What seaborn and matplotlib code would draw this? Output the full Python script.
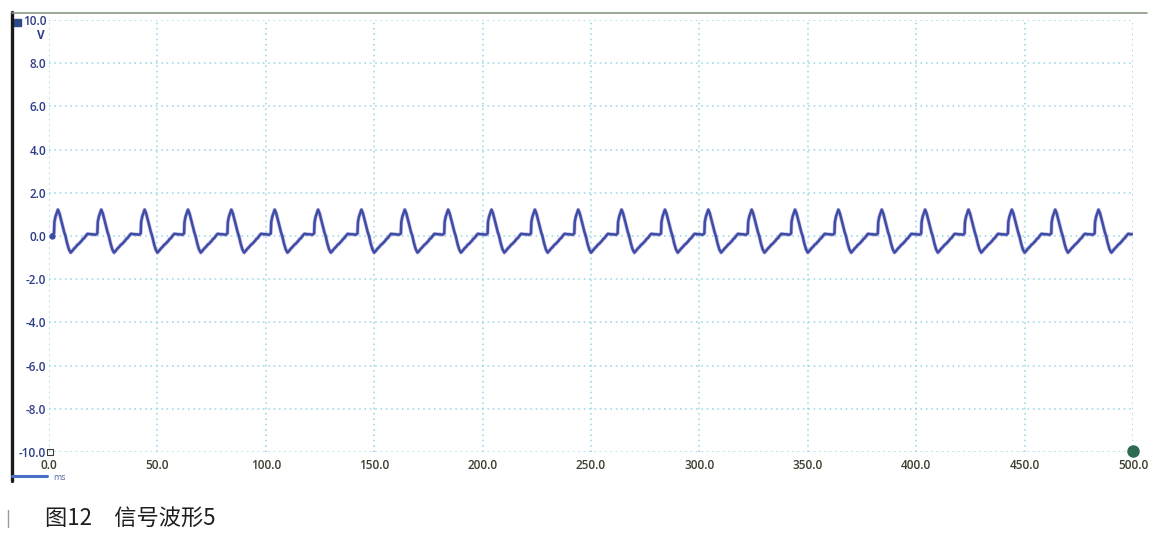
import numpy as np
import pandas as pd
import matplotlib
matplotlib.use("Agg")
import matplotlib.pyplot as plt
from matplotlib.lines import Line2D
from matplotlib.patches import Rectangle
import seaborn as sns

# One cycle of the trace (phase in ms, level in V)
cycle_phase = [0.0, 1.5, 2.3, 2.5, 3.0, 3.6, 4.1, 4.4, 4.8, 5.4, 6.2, 7.0, 7.6,
               8.4, 9.2, 10.0, 10.8, 11.6, 12.4, 13.2, 13.8, 14.5, 15.1, 15.6,
               16.2, 16.8, 17.3, 17.8, 18.6, 19.4, 20.0]
cycle_volts = [0.08, 0.06, 0.12, 0.65, 0.90, 1.08, 1.22, 1.15, 1.05, 0.82, 0.50,
               0.18, 0.00, -0.35, -0.62, -0.77, -0.68, -0.58, -0.50, -0.40, -0.36,
               -0.28, -0.22, -0.14, -0.10, -0.02, 0.05, 0.10, 0.09, 0.08, 0.08]
n_cycles = 25
period_ms = 20.0

x_ticks = [0, 50, 100, 150, 200, 250, 300, 350, 400, 450, 500]
x_labels = ["0.0", "50.0", "100.0", "150.0", "200.0", "250.0", "300.0",
            "350.0", "400.0", "450.0", "500.0"]
y_ticks = [-10, -8, -6, -4, -2, 0, 2, 4, 6, 8, 10]
y_labels = ["-10.0", "-8.0", "-6.0", "-4.0", "-2.0", "0.0", "2.0", "4.0",
            "6.0", "8.0", "10.0"]
caption = "图12\u3000信号波形5"

# repeat the read cycle across the capture window
t = np.concatenate([np.array(cycle_phase[:-1]) + k * period_ms for k in range(n_cycles)])
v = np.tile(cycle_volts[:-1], n_cycles)
t = np.append(t, 499.5)
v = np.append(v, 0.08)
keep = t >= 1.4
df = pd.DataFrame({"time_ms": t[keep], "volts": v[keep]})

sns.set_style("white")
plt.rcParams["font.family"] = ["Open Sans", "DejaVu Sans"]

fig = plt.figure(figsize=(11.61, 5.41), dpi=100)
W, H = 1161, 541
ax = fig.add_axes([49 / W, 1 - 452 / H, (1133 - 49) / W, (452 - 20) / H])

grid_color = "#8fd6e6"
for xt in x_ticks:
    ax.axvline(xt, color=grid_color, lw=1.1, ls=(0, (1, 2.5)), zorder=0)
for yt in y_ticks:
    ax.axhline(yt, color=grid_color, lw=1.1, ls=(0, (1, 2.5)), zorder=0)

sns.lineplot(data=df, x="time_ms", y="volts", ax=ax, color="#8a5cc0",
             lw=2.8, alpha=0.4, estimator=None, sort=False)
sns.lineplot(data=df, x="time_ms", y="volts", ax=ax, color="#3a4ea6",
             lw=1.8, estimator=None, sort=False)
ax.plot([1.5], [0.0], "o", color="#3a4ea6", ms=3.5)

ax.set_xlim(0, 500)
ax.set_ylim(-10, 10)
ax.set_xticks(x_ticks)
ax.set_xticklabels(x_labels)
ax.set_yticks(y_ticks)
ax.set_yticklabels(y_labels)
ax.set_xlabel("")
ax.set_ylabel("")
ax.tick_params(axis="both", length=0, labelsize=8.5)
ax.tick_params(axis="y", pad=2, labelcolor="#2c3e86")
ax.tick_params(axis="x", pad=5, labelcolor="#3a3f2e")
for lab in ax.get_xticklabels() + ax.get_yticklabels():
    lab.set_fontweight("semibold")
for s in ax.spines.values():
    s.set_visible(False)

ax.annotate("V", xy=(0, 9.3), xycoords=("axes fraction", "data"),
            xytext=(-3, 0), textcoords="offset points", ha="right",
            va="center", fontsize=8.5, color="#2c3e86", fontweight="bold")
ax.plot([500], [-9.95], "o", color="#2f6b52", ms=8, clip_on=False, zorder=5)

# scope window frame pieces
fig.add_artist(Line2D([12 / W, 12 / W], [1 - 12 / H, 1 - 481 / H],
                      color="#1a1a1a", lw=2.4))
fig.add_artist(Line2D([12 / W, 1147 / W], [1 - 12.5 / H, 1 - 12.5 / H],
                      color="#8a9a86", lw=1.2))
fig.add_artist(Rectangle((13.5 / W, 1 - 25.5 / H), 7 / W, 6 / H,
                         color="#2f4a8a", transform=fig.transFigure))
fig.add_artist(Rectangle((47 / W, 1 - 455 / H), 6 / W, 6 / H, fill=False,
                         ec="#3a3a3a", lw=0.8, transform=fig.transFigure))
fig.add_artist(Line2D([12 / W, 47 / W], [1 - 476 / H, 1 - 476 / H],
                      color="#4a6fc4", lw=2.2))
fig.text(53 / W, 1 - 478 / H, "ms", fontsize=6.5, color="#5a6aa0",
         va="center", ha="left")
fig.add_artist(Line2D([8 / W, 8 / W], [1 - 510 / H, 1 - 527 / H],
                      color="#9a9a9a", lw=1.0))

fig.text(45 / W, 1 - 518 / H, caption, fontsize=16, color="#1e1e1e",
         va="center", ha="left",
         family=["Noto Sans CJK SC", "DejaVu Sans"])

fig.savefig("out.png", dpi=100)
